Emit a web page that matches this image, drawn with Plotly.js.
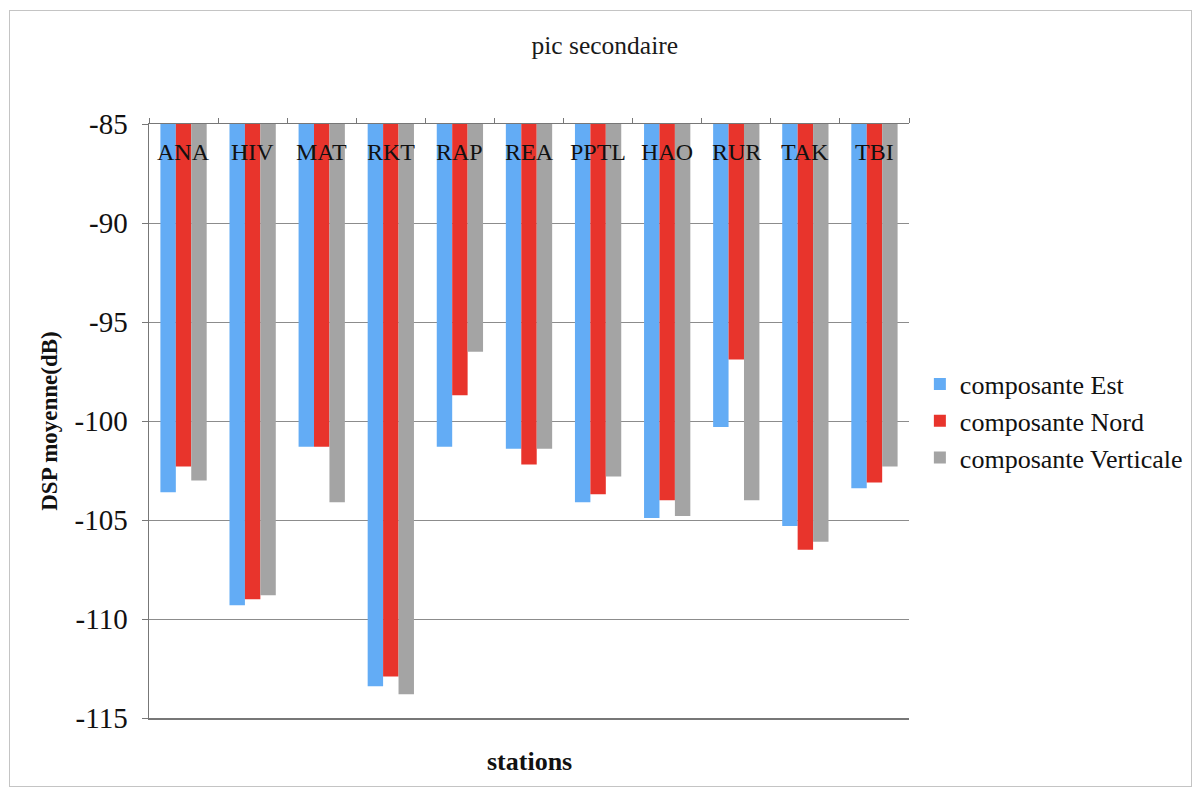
<!DOCTYPE html>
<html>
<head>
<meta charset="utf-8">
<script src="https://cdn.plot.ly/plotly-3.0.1.min.js"></script>
<style>
  html, body { margin: 0; padding: 0; background: #ffffff; }
  #wrap { position: relative; width: 1200px; height: 794px; }
  #chart { position: absolute; left: 0; top: 0; width: 1200px; height: 794px; }
  #frame { position: absolute; left: 9px; top: 10px; width: 1181px; height: 775px;
           border: 1px solid #c4c4c4; pointer-events: none; }
</style>
</head>
<body>
<div id="wrap">
  <div id="chart"></div>
  <div id="frame"></div>
</div>
<script>
// Stations (categories)
const stations = ['ANA', 'HIV', 'MAT', 'RKT', 'RAP', 'REA', 'PPTL', 'HAO', 'RUR', 'TAK', 'TBI'];
// Mean PSD (dB) of the secondary peak, per component
const composanteEst       = [-103.6, -109.3, -101.3, -113.4, -101.3, -101.4, -104.1, -104.9, -100.3, -105.3, -103.4];
const composanteNord      = [-102.3, -109.0, -101.3, -112.9,  -98.7, -102.2, -103.7, -104.0,  -96.9, -106.5, -103.1];
const composanteVerticale = [-103.0, -108.8, -104.1, -113.8,  -96.5, -101.4, -102.8, -104.8, -104.0, -106.1, -102.3];
const seriesNames = ['composante Est', 'composante Nord', 'composante Verticale'];
const yTickVals = [-85, -90, -95, -100, -105, -110, -115];
const yTop = -85;

const serif = 'Liberation Serif, Times New Roman, serif';
const colors = ['#63acf5', '#e8342c', '#a4a4a4'];
const allSeries = [composanteEst, composanteNord, composanteVerticale];

const traces = allSeries.map((vals, i) => ({
  type: 'bar',
  name: seriesNames[i],
  x: stations,
  y: vals,
  marker: { color: colors[i], line: { width: 0 } },
  hoverinfo: 'x+y+name'
}));

// category labels sit just under the top (-85) axis line, inside the plot
const stationLabels = stations.map(s => ({
  text: s,
  xref: 'x', yref: 'y',
  x: s, y: yTop,
  xanchor: 'center', yanchor: 'top',
  yshift: -13,
  showarrow: false,
  font: { family: serif, size: 24, color: '#111111' }
}));

const layout = {
  width: 1200,
  height: 794,
  paper_bgcolor: '#ffffff',
  plot_bgcolor: '#ffffff',
  margin: { l: 149, r: 282, t: 124, b: 76 },
  barmode: 'group',
  bargap: 0.33,
  bargroupgap: 0,
  title: {
    text: 'pic secondaire',
    font: { family: serif, size: 25.5, color: '#1a1a1a' },
    xref: 'container', yref: 'container',
    x: 0.504, y: 1 - 45 / 794, xanchor: 'center', yanchor: 'middle'
  },
  xaxis: {
    type: 'category',
    side: 'top',
    showticklabels: false,
    tickson: 'boundaries',
    ticks: 'outside',
    ticklen: 5,
    tickcolor: '#777777',
    showline: true,
    linecolor: '#777777',
    linewidth: 1.5,
    mirror: true,
    showgrid: false,
    fixedrange: true
  },
  yaxis: {
    range: [-115, -85],
    tickvals: yTickVals,
    ticktext: yTickVals.map(String),
    ticks: 'outside',
    ticklen: 6,
    tickcolor: '#777777',
    ticklabelstandoff: 8,
    showline: true,
    linecolor: '#777777',
    linewidth: 1.5,
    showgrid: true,
    gridcolor: '#8c8c8c',
    gridwidth: 1,
    zeroline: false,
    tickfont: { family: serif, size: 29, color: '#111111' },
    title: {
      text: '<b>DSP moyenne(dB)</b>',
      font: { family: serif, size: 23, color: '#111111' },
      standoff: 10
    },
    fixedrange: true
  },
  legend: {
    x: (929 - 149) / 769, xanchor: 'left',
    y: 0.5, yanchor: 'middle',
    font: { family: serif, size: 26, color: '#111111' },
    bgcolor: 'rgba(0,0,0,0)',
    itemwidth: 30,
    traceorder: 'normal'
  },
  annotations: stationLabels.concat([{
    text: '<b>stations</b>',
    xref: 'paper', yref: 'paper',
    x: 0.5, y: (718 - 762) / 594,
    xanchor: 'center', yanchor: 'middle',
    showarrow: false,
    font: { family: serif, size: 26, color: '#111111' }
  }])
};

Plotly.newPlot('chart', traces, layout, { displayModeBar: false, staticPlot: true });
</script>
</body>
</html>
